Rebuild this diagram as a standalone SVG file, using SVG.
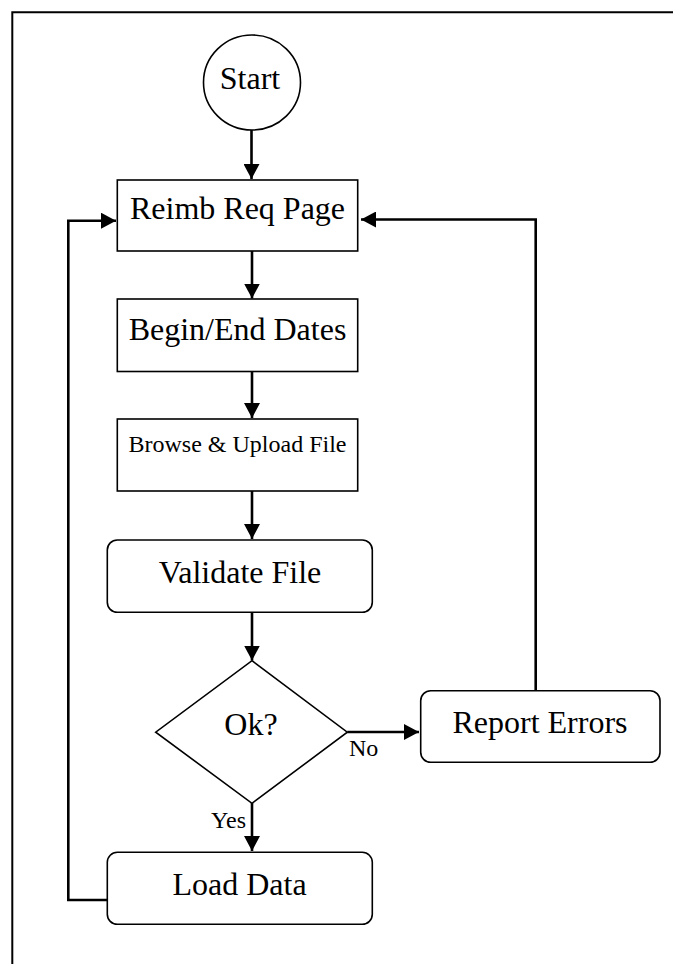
<svg xmlns="http://www.w3.org/2000/svg" width="673" height="964" viewBox="0 0 673 964">
  <style>
    .node { fill: #ffffff; stroke: #000000; stroke-width: 1.6; }
    .lbl { font-family: "Liberation Serif", "Times New Roman", serif; font-size: 32px; fill: #000000; text-anchor: middle; }
    .small { font-size: 24px; }
    .conn { fill: none; stroke: #000000; stroke-width: 2.6; }
    .frame { fill: none; stroke: #000000; stroke-width: 2; }
  </style>
  <defs>
    <marker id="arrow" markerUnits="userSpaceOnUse" markerWidth="16" markerHeight="16" refX="15" refY="8" orient="auto">
      <path d="M0,0 L15,8 L0,16 z" fill="#000000"/>
    </marker>
  </defs>
  <rect width="673" height="964" fill="#ffffff"/>
  <polyline class="frame" points="12.3,964 12.3,12.3 673,12.3"/>

  <g id="connectors">
    <line class="conn" x1="251.5" y1="130" x2="251.5" y2="179" marker-end="url(#arrow)"/>
    <line class="conn" x1="252" y1="251" x2="252" y2="298.5" marker-end="url(#arrow)"/>
    <line class="conn" x1="252" y1="371.5" x2="252" y2="418" marker-end="url(#arrow)"/>
    <line class="conn" x1="252" y1="491" x2="252" y2="539" marker-end="url(#arrow)"/>
    <line class="conn" x1="252" y1="612" x2="252" y2="660.5" marker-end="url(#arrow)"/>
    <line class="conn" x1="347.3" y1="732" x2="419" y2="732" marker-end="url(#arrow)"/>
    <line class="conn" x1="252" y1="803" x2="252" y2="851" marker-end="url(#arrow)"/>
    <polyline class="conn" points="535.7,690.7 535.7,219.5 361,219.5" marker-end="url(#arrow)"/>
    <polyline class="conn" points="107.3,900 68.3,900 68.3,220.7 116,220.7" marker-end="url(#arrow)"/>
    <text class="lbl small" x="349" y="756" style="text-anchor:start">No</text>
    <text class="lbl small" x="246" y="828" style="text-anchor:end">Yes</text>
  </g>

  <g id="start">
    <ellipse class="node" cx="252" cy="82.5" rx="48.5" ry="47.5"/>
    <text class="lbl" x="250" y="89">Start</text>
  </g>
  <g id="reimb-req-page">
    <rect class="node" x="117.3" y="180" width="240.4" height="71"/>
    <text class="lbl" x="237.5" y="219">Reimb Req Page</text>
  </g>
  <g id="begin-end-dates">
    <rect class="node" x="117.3" y="299" width="240.4" height="72.5"/>
    <text class="lbl" x="237.5" y="340">Begin/End Dates</text>
  </g>
  <g id="browse-upload">
    <rect class="node" x="117.3" y="419" width="240.4" height="72"/>
    <text class="lbl small" x="237.5" y="452">Browse &amp; Upload File</text>
  </g>
  <g id="validate-file">
    <rect class="node" x="107.3" y="540" width="265" height="72.3" rx="10" ry="10"/>
    <text class="lbl" x="240" y="583">Validate File</text>
  </g>
  <g id="ok-decision">
    <polygon class="node" points="252,660.7 347.3,732.2 252,803.3 155.7,732.2"/>
    <text class="lbl" x="251" y="735">Ok?</text>
  </g>
  <g id="report-errors">
    <rect class="node" x="420.7" y="690.7" width="239.3" height="71.6" rx="10" ry="10"/>
    <text class="lbl" x="540" y="733">Report Errors</text>
  </g>
  <g id="load-data">
    <rect class="node" x="107.3" y="852.3" width="265" height="72" rx="10" ry="10"/>
    <text class="lbl" x="239.5" y="895">Load Data</text>
  </g>
</svg>
